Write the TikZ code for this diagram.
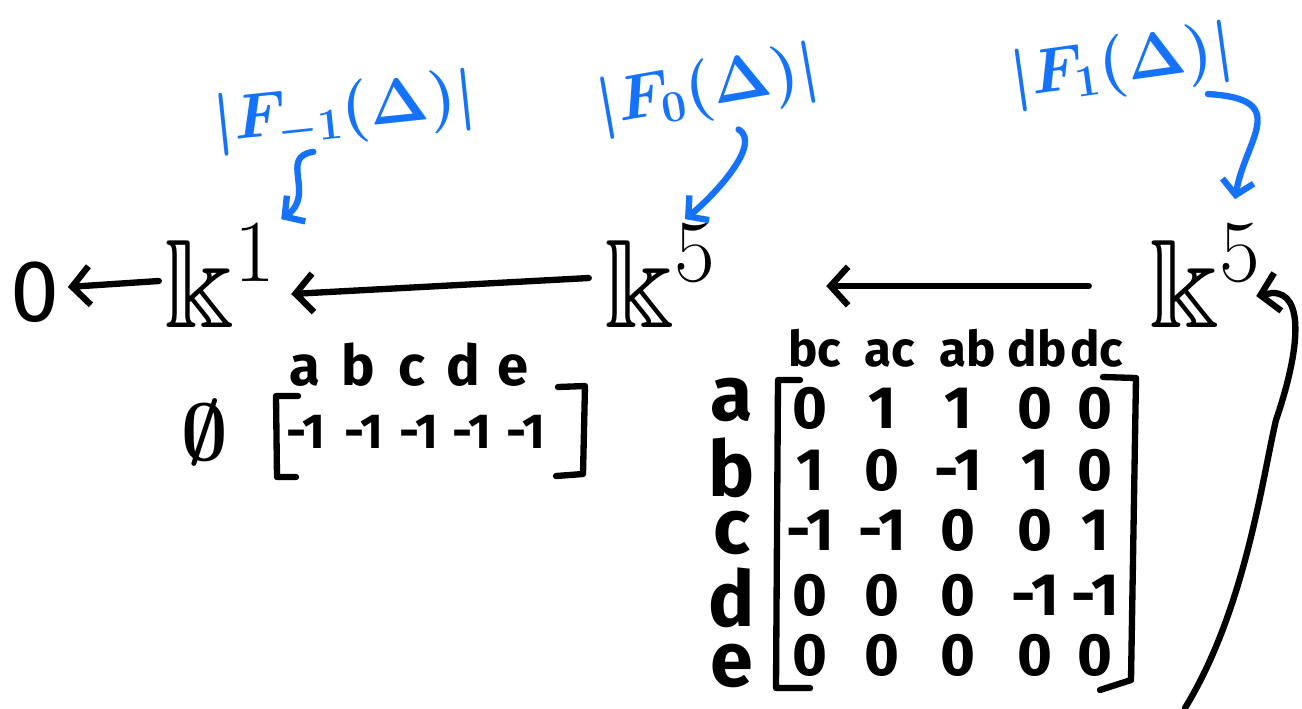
\RequirePackage{fix-cm}
\documentclass[tikz,border=0pt]{standalone}
\usepackage{amssymb}
\usepackage{fontspec}
\setmainfont{Fira Sans}
\usetikzlibrary{arrows.meta,calc}
\definecolor{pen}{RGB}{20,115,250}
\tikzset{
  ink/.style={line width=3.6pt, line cap=round, line join=round},
  arr/.style={ink, -{Straight Barb[length=10pt,width=22pt]}},
  barr/.style={ink, pen, -{Straight Barb[length=8pt,width=18pt]}},
  bigk/.style={font=\fontsize{72}{72}\selectfont, inner sep=0pt},
  zerofont/.style={font=\fontsize{50}{50}\selectfont, inner sep=0pt},
  blab/.style={pen, font=\fontsize{36}{36}\selectfont\boldmath, inner sep=0pt},
  entry/.style={font=\fontsize{34}{34}\selectfont\bfseries, inner sep=0pt},
  rowent/.style={font=\fontsize{28}{28}\selectfont\bfseries, inner sep=0pt},
  collab/.style={font=\fontsize{32}{32}\selectfont\bfseries, inner sep=0pt, anchor=base},
  mcollab/.style={font=\fontsize{28}{28}\selectfont\bfseries, inner sep=0pt, anchor=base},
  rowlab/.style={font=\fontsize{44}{44}\selectfont\bfseries, inner sep=0pt},
}
\begin{document}
\begin{tikzpicture}[x=0.02cm, y=-0.02cm]
\useasboundingbox (0,0) rectangle (1302,708);

% main chain
\node[zerofont] (zero) at (35,292) {0};
\node[bigk] (k1) at (220,276) {$\Bbbk^{1}$};
\node[bigk] (km) at (660,276) {$\Bbbk^{5}$};
\node[bigk] (kr) at (1205,276) {$\Bbbk^{5}$};

\draw[arr] ($(k1.west)+(-5,5)$) -- ($(zero.east)+(8,-5)$);
\draw[arr] ($(km.west)+(-15,2)$) -- ($(k1.east)+(15,18)$);
\draw[arr] ($(kr.west)+(-60,10)$) -- ($(km.east)+(110,10)$);

% blue labels
\node[blab, rotate=6] (Fm1) at (345,112) {$|F_{-1}(\Delta)|$};
\node[blab, rotate=10] (F0) at (708,90) {$|F_{0}(\Delta)|$};
\node[blab, rotate=8] (F1) at (1122,66) {$|F_{1}(\Delta)|$};

\draw[barr] ($(Fm1.south)+(-35,8)$) .. controls +(-35,5) and +(35,-25) .. ($(k1.north east)+(5,-5)$);
\draw[barr] ($(F0.south)+(25,8)$) .. controls +(25,15) and +(25,-20) .. ($(km.north)+(25,-5)$);
\coordinate (F1tail) at ($(F1.south east)+(-30,12)$);
\draw[barr] (F1tail) .. controls +(85,5) and +(10,-60) .. ($(kr.north)+(30,-25)$);

% return arrow
\coordinate (bottom) at (1185,708);
\draw[arr] (bottom) .. controls (1245,610) and (1262,480) .. (1276,420)
  .. controls (1300,350) and (1305,292) .. (1272,293) -- ($(kr.east)+(-5,20)$);

% row matrix
\node[font=\fontsize{46}{46}\selectfont\boldmath, inner sep=0pt] (empty) at (205,432) {$\emptyset$};
\foreach \x/\l [count=\i] in {305/a,358/b,412/c,463/d,513/e}
  \node[collab] (rl\i) at (\x,385) {\l};
\foreach \x [count=\i] in {306,364,419,472,526}
  \node[rowent] (r\i) at (\x,432) {-1};
\draw[ink] (298,396) -- (276,396) -- (277,477) -- (296,477);
\draw[ink] (558,387) -- (585,386) -- (583,474) -- (556,476);

% big matrix
\foreach \y/\l [count=\i] in {400/a,468/b,533/c,598/d,666/e}
  \node[rowlab] (ml\i) at (732,\y) {\l};
\foreach \x/\l [count=\i] in {815/bc,890/ac,968/ab,1037/db,1097/dc}
  \node[mcollab] (mc\i) at (\x,366) {\l};
\foreach \row [count=\r] in {{0,1,1,0,0},{1,0,-1,1,0},{-1,-1,0,0,1},{0,0,0,-1,-1},{0,0,0,0,0}} {
  \foreach \v [count=\c] in \row {
    \pgfmathsetmacro{\xx}{{810,882,958,1035,1095}[\c-1]}
    \pgfmathsetmacro{\yy}{{408,470,530,595,655}[\r-1]}
    \node[entry] (m\r\c) at (\xx,\yy) {\v};
  }
}
\draw[ink] (800,380) -- (778,380) -- (776,688) -- (810,688);
\draw[ink] (1103,377) -- (1136,378) -- (1131,680) -- (1100,690);
\end{tikzpicture}
\end{document}
